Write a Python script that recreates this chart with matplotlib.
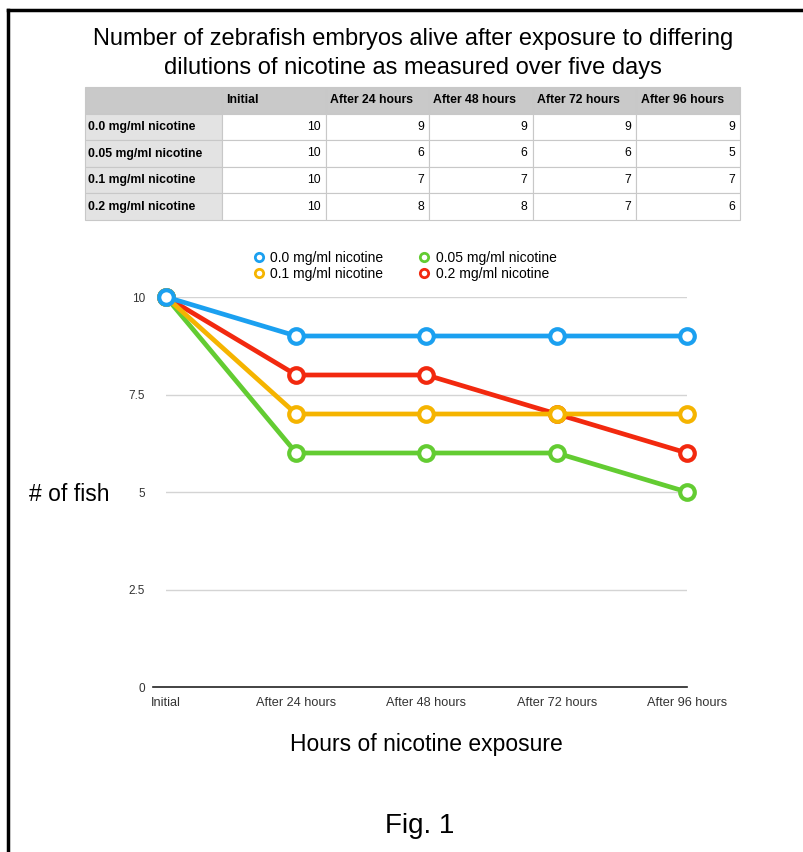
import matplotlib
matplotlib.use("Agg")
import matplotlib.pyplot as plt
from matplotlib.lines import Line2D

plt.rcParams['font.family'] = ['Liberation Sans', 'DejaVu Sans']

categories = ["Initial", "After 24 hours", "After 48 hours", "After 72 hours", "After 96 hours"]
series_names = ["0.0 mg/ml nicotine", "0.05 mg/ml nicotine", "0.1 mg/ml nicotine", "0.2 mg/ml nicotine"]
vals_00 = [10, 9, 9, 9, 9]
vals_005 = [10, 6, 6, 6, 5]
vals_01 = [10, 7, 7, 7, 7]
vals_02 = [10, 8, 8, 7, 6]
yticks = [0, 2.5, 5, 7.5, 10]
ytick_labels = ["0", "2.5", "5", "7.5", "10"]

colors = {"0.0 mg/ml nicotine": "#1ba0f0",
          "0.05 mg/ml nicotine": "#63cc32",
          "0.1 mg/ml nicotine": "#f5b400",
          "0.2 mg/ml nicotine": "#f2290f"}
data = {"0.0 mg/ml nicotine": vals_00,
        "0.05 mg/ml nicotine": vals_005,
        "0.1 mg/ml nicotine": vals_01,
        "0.2 mg/ml nicotine": vals_02}

W, H = 804, 852
fig = plt.figure(figsize=(W / 100, H / 100), dpi=100)

def fx(px):
    return px / W

def fy(py):
    return 1 - py / H

# frame border (top and left)
fig.add_artist(Line2D([fx(8), fx(804)], [fy(10), fy(10)], color="black", lw=2.5))
fig.add_artist(Line2D([fx(8), fx(8)], [fy(10), fy(852)], color="black", lw=2.5))

# title
fig.text(fx(413), fy(39), "Number of zebrafish embryos alive after exposure to differing",
         ha="center", va="center", fontsize=17)
fig.text(fx(413), fy(68), "dilutions of nicotine as measured over five days",
         ha="center", va="center", fontsize=17)

# table
tab_left, tab_right, tab_top, tab_bot = 85, 740, 87, 220
tax = fig.add_axes([fx(tab_left), fy(tab_bot), fx(tab_right - tab_left), (tab_bot - tab_top) / H])
tax.axis("off")
cell_text = [[name] + [str(v) for v in data[name]] for name in series_names]
header = [""] + categories
all_text = [header] + cell_text
first_w = 137.0
other_w = (tab_right - tab_left - first_w) / 5
col_w = [first_w / (tab_right - tab_left)] + [other_w / (tab_right - tab_left)] * 5
tbl = tax.table(cellText=all_text, colWidths=col_w, bbox=[0, 0, 1, 1], cellLoc="right")
tbl.auto_set_font_size(False)
for (r, c), cell in tbl.get_celld().items():
    cell.set_edgecolor("#c8c8c8")
    cell.set_linewidth(0.8)
    txt = cell.get_text()
    txt.set_fontsize(8.8)
    if r == 0:
        cell.set_facecolor("#c9c9c9")
        txt.set_fontweight("bold")
        txt.set_ha("left")
        cell.PAD = 0.04
    elif c == 0:
        cell.set_facecolor("#e3e3e3")
        txt.set_fontweight("bold")
        txt.set_ha("left")
        cell.PAD = 0.025
    else:
        cell.set_facecolor("white")
        txt.set_ha("right")
        cell.PAD = 0.05
    cell._loc = txt.get_ha()

# chart axes
x0, x1 = 166, 687
y10, y0 = 297, 687
ax = fig.add_axes([fx(x0), fy(y0), fx(x1 - x0), (y0 - y10) / H])
xs = list(range(len(categories)))
ax.set_xlim(0, len(categories) - 1)
ax.set_ylim(0, 10)
for s in ax.spines.values():
    s.set_visible(False)
for yv in yticks[1:]:
    ax.axhline(yv, color="#d4d4d4", lw=1.0, zorder=0)
ax.axhline(0, xmin=-0.025, xmax=1.0, color="#222222", lw=1.2, zorder=0, clip_on=False)
ax.set_yticks(yticks)
ax.set_yticklabels(ytick_labels)
ax.set_xticks(xs)
ax.set_xticklabels(categories)
ax.tick_params(axis="both", length=0, colors="#333333")
ax.tick_params(axis="y", pad=15, labelsize=8.5)
ax.tick_params(axis="x", pad=7, labelsize=9.2)

draw_order = ["0.2 mg/ml nicotine", "0.05 mg/ml nicotine", "0.1 mg/ml nicotine", "0.0 mg/ml nicotine"]
for i, name in enumerate(draw_order):
    ax.plot(xs, data[name], color=colors[name], lw=3.4, marker="o", markersize=10.5,
            markerfacecolor="white", markeredgecolor=colors[name], markeredgewidth=3,
            clip_on=False, zorder=3 + i, solid_capstyle="round")

# legend
legend_order = ["0.0 mg/ml nicotine", "0.1 mg/ml nicotine", "0.05 mg/ml nicotine", "0.2 mg/ml nicotine"]
handles = [Line2D([], [], color=colors[n], lw=0, marker="o", markersize=6,
                  markerfacecolor="white", markeredgewidth=2, markeredgecolor=colors[n])
           for n in legend_order]
fig.legend(handles, legend_order, ncol=2, loc="center", bbox_to_anchor=(fx(404), fy(266)),
           frameon=False, fontsize=10, handletextpad=0.3, columnspacing=2.5,
           labelspacing=0.15, handlelength=1.0)

# axis labels
fig.text(fx(69), fy(494), "# of fish", ha="center", va="center", fontsize=16.5)
fig.text(fx(426), fy(745), "Hours of nicotine exposure", ha="center", va="center", fontsize=16.5)
fig.text(fx(420), fy(826), "Fig. 1", ha="center", va="center", fontsize=20)

fig.savefig("out.png", dpi=100, facecolor="white")
